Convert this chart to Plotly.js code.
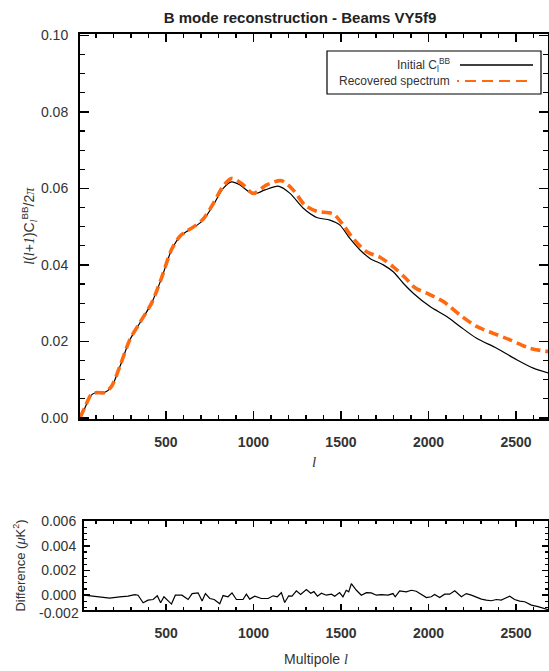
<!DOCTYPE html>
<html><head><meta charset="utf-8">
<script src="https://cdn.plot.ly/plotly-3.0.1.min.js"></script>
<style>html,body{margin:0;padding:0;background:#fff}</style>
</head><body><div id="chart" style="width:549px;height:671px"></div>
<script>
// ---- data ----
const ellInitial = [12, 37, 75, 104, 151, 190, 237, 294, 351, 418, 475, 532, 580, 618, 666, 713, 770, 827, 875, 923, 999, 1066, 1142, 1209, 1285, 1361, 1437, 1494, 1551, 1609, 1666, 1742, 1799, 1856, 1913, 2009, 2104, 2180, 2275, 2390, 2504, 2599, 2690];
const clInitial = [0.0000, 0.0026, 0.0060, 0.0067, 0.0067, 0.0082, 0.0134, 0.0204, 0.0248, 0.0300, 0.0365, 0.0439, 0.0474, 0.0487, 0.0500, 0.0517, 0.0556, 0.0600, 0.0617, 0.0609, 0.0585, 0.0596, 0.0606, 0.0587, 0.0548, 0.0524, 0.0517, 0.0504, 0.0469, 0.0439, 0.0417, 0.0400, 0.0382, 0.0352, 0.0326, 0.0291, 0.0265, 0.0239, 0.0208, 0.0182, 0.0152, 0.0130, 0.0117];

const ellRecovered = [9, 37, 75, 104, 151, 190, 237, 294, 351, 418, 475, 532, 580, 618, 666, 713, 770, 827, 875, 932, 999, 1075, 1161, 1227, 1294, 1361, 1456, 1513, 1570, 1647, 1723, 1799, 1870, 1923, 1990, 2085, 2180, 2275, 2370, 2466, 2580, 2690];
const clRecovered = [0.0000, 0.0028, 0.0062, 0.0066, 0.0066, 0.0083, 0.0135, 0.0205, 0.0249, 0.0300, 0.0366, 0.0440, 0.0475, 0.0488, 0.0502, 0.0520, 0.0560, 0.0606, 0.0626, 0.0613, 0.0587, 0.0609, 0.0620, 0.0596, 0.0556, 0.0540, 0.0533, 0.0504, 0.0469, 0.0434, 0.0420, 0.0395, 0.0365, 0.0340, 0.0326, 0.0304, 0.0269, 0.0239, 0.0221, 0.0204, 0.0182, 0.0173];

const ellDiff = [31, 73, 130, 178, 235, 283, 321, 340, 369, 397, 426, 450, 469, 488, 531, 553, 591, 626, 649, 683, 706, 725, 750, 775, 807, 826, 854, 877, 902, 940, 959, 978, 1007, 1045, 1083, 1112, 1136, 1159, 1178, 1201, 1220, 1245, 1269, 1302, 1327, 1345, 1365, 1388, 1416, 1445, 1464, 1492, 1511, 1530, 1544, 1559, 1588, 1616, 1645, 1673, 1702, 1730, 1769, 1797, 1810, 1835, 1873, 1902, 1930, 1959, 1988, 2016, 2035, 2064, 2092, 2121, 2150, 2188, 2216, 2245, 2273, 2302, 2330, 2359, 2388, 2416, 2435, 2464, 2492, 2521, 2550, 2588, 2626, 2664, 2690];
const diffValues = [0.00000, -0.00008, -0.00019, -0.00024, -0.00013, -0.00008, 0.00005, 0.00000, -0.00061, -0.00040, -0.00035, -0.00005, -0.00061, -0.00013, -0.00072, 0.00000, 0.00000, -0.00035, 0.00013, 0.00019, -0.00048, 0.00013, -0.00027, -0.00035, -0.00070, -0.00003, -0.00013, 0.00019, -0.00035, -0.00035, 0.00008, -0.00032, -0.00008, -0.00027, -0.00027, -0.00005, -0.00013, 0.00021, -0.00059, -0.00005, -0.00008, 0.00035, 0.00005, 0.00045, 0.00016, 0.00029, -0.00008, 0.00016, 0.00000, 0.00008, -0.00008, 0.00021, -0.00013, 0.00040, 0.00027, 0.00093, 0.00040, 0.00000, 0.00021, 0.00019, 0.00000, 0.00005, 0.00000, 0.00013, -0.00013, 0.00035, 0.00027, 0.00040, 0.00032, 0.00008, -0.00019, -0.00013, 0.00005, -0.00019, 0.00008, 0.00008, 0.00035, -0.00013, 0.00013, 0.00000, -0.00019, -0.00032, -0.00040, -0.00045, -0.00035, -0.00040, -0.00027, -0.00008, -0.00035, -0.00048, -0.00053, -0.00080, -0.00093, -0.00112, -0.00120];

const titleText = 'B mode reconstruction - Beams VY5f9';
const legendLabels = ['Initial C<sub>l</sub><sup>BB</sup>', 'Recovered spectrum'];
const diffTickVals = [0, 0.002, 0.004, 0.006];

// ---- layout helpers (pixel -> paper) ----
const W = 549, H = 671;
const px = v => v / W;
const py = v => 1 - v / H;

const SANS = 'Liberation Sans, Arial, Helvetica, sans-serif';
const TXT = '#333';
const ital = s => '<span style="font-family:Liberation Serif,serif"><i>' + s + '</i></span>';

const traces = [
  {x: ellInitial, y: clInitial, mode: 'lines', name: 'Initial', xaxis: 'x', yaxis: 'y',
   line: {color: '#000', width: 1.2, shape: 'spline', smoothing: 0.8}, hoverinfo: 'skip'},
  {x: ellRecovered, y: clRecovered, mode: 'lines', name: 'Recovered', xaxis: 'x', yaxis: 'y',
   line: {color: '#ff6a10', width: 3.6, dash: '10px,5px', shape: 'spline', smoothing: 0.8}, hoverinfo: 'skip'},
  {x: ellDiff, y: diffValues, mode: 'lines', name: 'Difference', xaxis: 'x2', yaxis: 'y2',
   line: {color: '#000', width: 1.2}, hoverinfo: 'skip'}
];

const axCommon = {
  showline: true, linecolor: '#000', linewidth: 2, mirror: 'allticks',
  ticks: 'inside', tickcolor: '#000', tickwidth: 1.5, showgrid: false, zeroline: false,
  tickfont: {family: SANS, size: 14, color: TXT}
};

const layout = {
  width: W, height: H, margin: {l: 0, r: 0, t: 0, b: 0},
  paper_bgcolor: '#fff', plot_bgcolor: '#fff', showlegend: false,
  title: {text: titleText, font: {family: SANS, size: 15, weight: 700, color: '#222'},
          x: px(300), xanchor: 'center', y: py(18), yanchor: 'middle'},
  xaxis: Object.assign({}, axCommon, {
    domain: [px(80), px(548)], range: [9, 2683], anchor: 'y',
    tickmode: 'linear', tick0: 0, dtick: 500, ticklen: 8,
    tickfont: {family: SANS, size: 14, color: TXT, weight: 700},
    ticklabelstandoff: 9,
    minor: {ticks: 'inside', tick0: 0, dtick: 100, ticklen: 4, tickwidth: 1.2, tickcolor: '#000'},
    title: {text: ital('l'), font: {size: 15, color: TXT}, standoff: 8}
  }),
  yaxis: Object.assign({}, axCommon, {
    domain: [py(419), py(33.5)], range: [-0.0003, 0.1005], anchor: 'x',
    tickmode: 'linear', tick0: 0, dtick: 0.02, tickformat: '.2f', ticklen: 9,
    ticklabelstandoff: 7,
    minor: {ticks: 'inside', tick0: 0, dtick: 0.005, ticklen: 5, tickwidth: 1.2, tickcolor: '#000'},
    title: {text: ital('l') + '(' + ital('l') + '+' + ital('1') + ')C<sub>' + ital('l') + '</sub><sup>BB</sup>/2' + ital('π'),
            font: {family: SANS, size: 14, color: TXT}, standoff: 3}
  }),
  xaxis2: Object.assign({}, axCommon, {
    domain: [px(84), px(548)], range: [31, 2683], anchor: 'y2',
    tickmode: 'linear', tick0: 0, dtick: 500, ticklen: 6,
    tickfont: {family: SANS, size: 14, color: TXT, weight: 700},
    ticklabelstandoff: 9,
    minor: {ticks: 'inside', tick0: 0, dtick: 100, ticklen: 3, tickwidth: 1.2, tickcolor: '#000'},
    title: {text: 'Multipole ' + ital('l'), font: {family: SANS, size: 14, color: TXT}, standoff: 14}
  }),
  yaxis2: Object.assign({}, axCommon, {
    domain: [py(610), py(521)], range: [-0.0012, 0.00601], anchor: 'x2',
    tickmode: 'array', tickvals: diffTickVals, tickformat: '.3f', ticklen: 6,
    ticklabelstandoff: 3,
    minor: {ticks: 'inside', tick0: 0, dtick: 0.0005, ticklen: 3, tickwidth: 1.2, tickcolor: '#000'},
    title: {text: 'Difference (<i>μ</i>K<sup>2</sup>)', font: {family: SANS, size: 13, color: TXT}, standoff: 13}
  }),
  shapes: [
    {type: 'rect', xref: 'paper', yref: 'paper', x0: px(327), x1: px(541), y0: py(94), y1: py(51),
     line: {color: '#000', width: 1.2}, fillcolor: '#fff', layer: 'above'},
    {type: 'line', xref: 'paper', yref: 'paper', x0: px(460), x1: px(533), y0: py(65), y1: py(65),
     line: {color: '#000', width: 1.6}},
    {type: 'line', xref: 'paper', yref: 'paper', x0: px(457), x1: px(533), y0: py(81), y1: py(81),
     line: {color: '#ff6a10', width: 2.2, dash: '2px,6px,11px,6px,11px,6px,11px,6px,11px,6px'}}
  ],
  annotations: [
    {text: legendLabels[0], xref: 'paper', yref: 'paper', x: px(452), y: py(65), xanchor: 'right', yanchor: 'middle',
     showarrow: false, font: {family: SANS, size: 12, color: TXT}},
    {text: legendLabels[1], xref: 'paper', yref: 'paper', x: px(452), y: py(81), xanchor: 'right', yanchor: 'middle',
     showarrow: false, font: {family: SANS, size: 12, color: TXT}},
    {text: '-0.002', xref: 'paper', yref: 'paper', x: px(81), y: py(613), xanchor: 'right', yanchor: 'middle',
     showarrow: false, font: {family: SANS, size: 14, color: TXT}}
  ]
};

Plotly.newPlot('chart', traces, layout, {staticPlot: true, displayModeBar: false});
</script>
</body></html>
